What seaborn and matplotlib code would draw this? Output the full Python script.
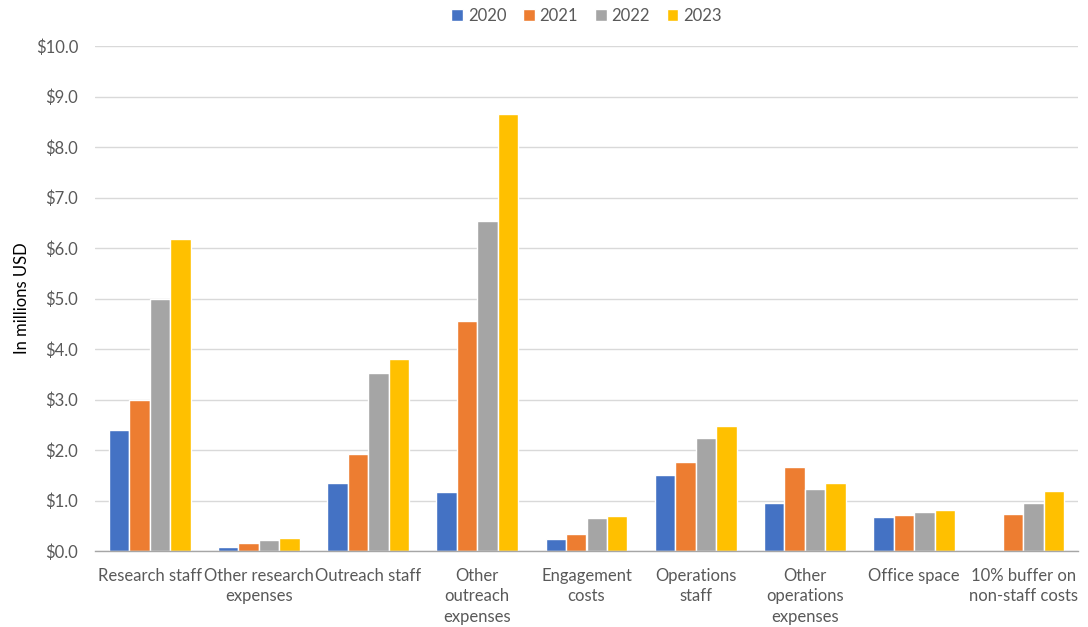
import matplotlib
matplotlib.use("Agg")
import matplotlib.pyplot as plt
from matplotlib.ticker import FuncFormatter, FixedLocator
import seaborn as sns
import pandas as pd
import numpy as np

categories = ["Research staff", "Other research\nexpenses", "Outreach staff",
              "Other\noutreach\nexpenses", "Engagement\ncosts", "Operations\nstaff",
              "Other\noperations\nexpenses", "Office space", "10% buffer on\nnon-staff costs"]
years = ["2020", "2021", "2022", "2023"]
v2020 = [2.40, 0.07, 1.35, 1.17, 0.23, 1.50, 0.95, 0.67, np.nan]
v2021 = [2.99, 0.15, 1.93, 4.55, 0.34, 1.77, 1.66, 0.72, 0.73]
v2022 = [5.00, 0.22, 3.53, 6.53, 0.65, 2.23, 1.23, 0.78, 0.96]
v2023 = [6.18, 0.25, 3.80, 8.65, 0.70, 2.47, 1.34, 0.82, 1.19]
colors = ["#4472C4", "#ED7D31", "#A5A5A5", "#FFC000"]

rows = []
for y, vals in zip(years, [v2020, v2021, v2022, v2023]):
    for c, v in zip(categories, vals):
        if not np.isnan(v):
            rows.append({"category": c, "year": y, "value": v})
df = pd.DataFrame(rows)

sns.set_style("white")
plt.rcParams['font.family'] = ['Lato', 'DejaVu Sans']

fig = plt.figure(figsize=(10.88, 6.27), dpi=100)
ax = fig.add_axes([95/1088, 76/627, 983/1088, 505/627])

sns.barplot(data=df, x="category", y="value", hue="year", order=categories,
            hue_order=years, palette=colors, width=0.75, errorbar=None,
            edgecolor="white", linewidth=1.0, ax=ax, saturation=1)

ax.set_ylim(0, 10)
ax.set_xlim(-0.5, len(categories) - 0.5)
ax.yaxis.set_major_locator(FixedLocator(np.arange(0, 10.5, 1)))
ax.yaxis.set_major_formatter(FuncFormatter(lambda v, p: f"${v:.1f}"))
ax.grid(axis="y", color="#D9D9D9", linewidth=1)
ax.set_axisbelow(True)
for s in ["top", "right", "left"]:
    ax.spines[s].set_visible(False)
ax.spines["bottom"].set_color("#A6A6A6")
ax.spines["bottom"].set_linewidth(1)

ax.tick_params(axis="y", length=0, labelsize=12, labelcolor="#595959", pad=12)
ax.tick_params(axis="x", which="major", length=0, labelsize=12, labelcolor="#595959", pad=12)
for lbl in ax.get_xticklabels():
    lbl.set_linespacing(1.35)
ax.set_xticks(np.arange(-0.5, len(categories), 1), minor=True)
ax.tick_params(axis="x", which="minor", length=6, color="#A6A6A6", width=1)

ax.set_xlabel("")
ax.set_ylabel("In millions USD", fontsize=12, color="#000000", labelpad=4)

ax.legend(loc="upper center", bbox_to_anchor=(0.5, 1.105), ncol=4, frameon=False,
          fontsize=12, handlelength=0.7, handleheight=0.7, handletextpad=0.3,
          columnspacing=1.0, labelcolor="#595959")

fig.savefig("out.png", dpi=100)
